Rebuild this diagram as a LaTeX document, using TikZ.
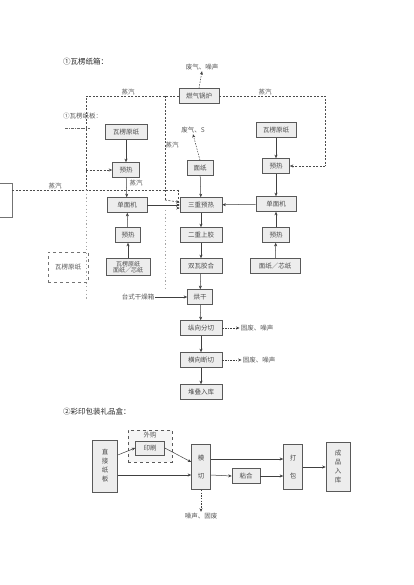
\documentclass[tikz,border=0pt]{standalone}
\usepackage{fontspec}
\newfontfamily\cjk{Noto Sans CJK SC}
\usetikzlibrary{arrows.meta,positioning}
\begin{document}
\begin{tikzpicture}[x=1pt,y=-1pt,
  box/.style={draw=black!65, fill=black!7, line width=0.6pt, minimum height=15pt, inner sep=1pt, font=\cjk\fontsize{6.5}{7}\selectfont, text=black!70},
  lbl/.style={font=\cjk\fontsize{6.5}{7}\selectfont, text=black!65, inner sep=1pt},
  ttl/.style={font=\cjk\fontsize{7.5}{8}\selectfont, text=black!85, inner sep=1pt},
  arr/.style={-{Stealth[length=3.5pt,width=3pt]}, line width=0.5pt, draw=black!75},
  steam/.style={line width=0.6pt, draw=black!70, dash pattern=on 2pt off 1.5pt},
  ghost/.style={line width=0.7pt, draw=black!35, dash pattern=on 1.2pt off 2.5pt},
  darr/.style={-{Stealth[length=3.5pt,width=3pt]}, line width=0.5pt, draw=black!75, dash pattern=on 1.5pt off 1.2pt}]
\useasboundingbox (0,0) rectangle (413,585);
\fill[white] (0,0) rectangle (413,585);

% titles
\node[ttl, anchor=west] (t1) at (62,62) {①瓦楞纸箱：};
\node[lbl, anchor=west] (t2) at (62,116) {①瓦楞纸板：};
\node[ttl, anchor=west] (t3) at (62,412) {②彩印包装礼品盒：};

% top part
\node[lbl] (emit) at (202,67) {废气、噪声};
\node[box, minimum width=40pt] (boiler) at (199,96) {燃气锅炉};
\node[lbl] (st1) at (128,92) {蒸汽};
\node[lbl] (st2) at (265,92) {蒸汽};
\node[lbl] (st3) at (172,145) {蒸汽};
\node[lbl] (st4) at (136,183) {蒸汽};
\node[lbl] (st5) at (55,186) {蒸汽};

\node[box, minimum width=42pt] (yl1) at (126,132) {瓦楞原纸};
\node[box, minimum width=27pt] (pre1) at (126,170) {预热};
\node[box, minimum width=40pt] (sf1) at (127,205) {单面机};
\node[box, minimum width=25pt] (pre2) at (128,235) {预热};
\node[box, minimum width=44pt, align=center, minimum height=17pt, inner sep=0.5pt, font=\cjk\fontsize{6}{6.5}\selectfont] (mz1) at (128,267) {瓦楞原纸\\面纸／芯纸};

\node[lbl] (gas2) at (193,130) {废气、S};
\node[box, minimum width=26pt] (mz) at (200,168) {面纸};
\node[box, minimum width=42pt] (tri) at (201,205) {三重预热};
\node[box, minimum width=42pt] (glue) at (201,235) {二重上胶};
\node[box, minimum width=42pt] (dbl) at (201,266) {双瓦胶合};
\node[box, minimum width=25pt] (dry) at (200,297) {烘干};
\node[box, minimum width=42pt] (cut1) at (201,328) {纵向分切};
\node[box, minimum width=42pt] (cut2) at (201,360) {横向断切};
\node[box, minimum width=42pt] (store) at (201,392) {堆叠入库};
\node[lbl] (w1) at (257,328) {固废、噪声};
\node[lbl] (w2) at (259,360) {固废、噪声};
\node[lbl] (dryer) at (138,297) {台式干燥箱};

\node[box, minimum width=40pt] (yl2) at (276,130) {瓦楞原纸};
\node[box, minimum width=27pt] (pre3) at (276,166) {预热};
\node[box, minimum width=40pt] (sf2) at (276,204) {单面机};
\node[box, minimum width=27pt] (pre4) at (276,235) {预热};
\node[box, minimum width=50pt] (mz2) at (275,266) {面纸／芯纸};

\node[lbl, draw=black!55, dashed, minimum width=40pt, minimum height=30pt] (yl3) at (68,267) {瓦楞原纸};
\draw[black!55, line width=0.5pt] (0,183) -- (12,183) -- (12,217) -- (0,217);

% steam lines
\coordinate (lc) at (86,96);
\coordinate (lc2) at (86,170);
\coordinate (lc3) at (86,190);
\coordinate (mc) at (165,96);
\coordinate (mc2) at (165,200);
\coordinate (rc) at (325,96);
\coordinate (rc2) at (325,166);
\coordinate (hl) at (12,190);
\coordinate (hr) at (178,190);
\draw[steam] (boiler.west) -- (lc) -- (lc3);
\draw[steam,-{Stealth[length=3.5pt,width=3pt]}] (lc2) -- (pre1.west);
\draw[steam] (hl) -- (hr);
\draw[steam,-{Stealth[length=3.5pt,width=3pt]}] (hr) |- ([yshift=-3pt]tri.west);
\draw[steam] (mc) -- (mc2);
\draw[steam,-{Stealth[length=3.5pt,width=3pt]}] (mc2) -- ([yshift=-5pt]tri.north west);
\draw[steam] (boiler.east) -- (rc) -- (rc2);
\draw[steam,-{Stealth[length=3.5pt,width=3pt]}] (rc2) -- (pre3.east);
\draw[ghost] (lc3) -- (86,300);
\draw[ghost] (165,210) -- (165,290);
\draw[black!60, line width=0.5pt, dash pattern=on 3pt off 1pt on 0.8pt off 1pt] (65,128) -- (90,128);

\draw[darr] (boiler.north) -- (emit.south);
\draw[darr] (mz.north) -- (gas2.south);

% process arrows
\draw[arr] (yl1) -- (pre1);
\draw[arr] (pre1) -- (sf1);
\draw[arr] (pre2) -- (sf1);
\draw[arr] (mz1) -- (pre2);
\draw[arr] (sf1) -- (tri);
\draw[arr] (mz) -- (tri);
\draw[arr] (tri) -- (glue);
\draw[arr] (glue) -- (dbl);
\draw[arr] (dbl) -- (dry);
\draw[arr] (dryer) -- (dry);
\draw[arr] (dry) -- (cut1);
\draw[arr] (cut1) -- (cut2);
\draw[arr] (cut2) -- (store);
\draw[darr] (cut1) -- (w1);
\draw[darr] (cut2) -- (w2);
\draw[arr] (yl2) -- (pre3);
\draw[arr] (pre3) -- (sf2);
\draw[arr] (sf2) -- (tri);
\draw[arr] (pre4) -- (sf2);
\draw[arr] (mz2) -- (pre4);

% part 2
\node[box, minimum width=25pt, minimum height=52pt, align=center, font=\cjk\fontsize{6.5}{9}\selectfont] (zb) at (105,466) {直\\接\\纸\\板};
\node[draw=black!65, dashed, line width=0.6pt, fill=black!4, minimum width=44pt, minimum height=32pt] (wg) at (150,446) {};
\node[box, minimum width=29pt, minimum height=14pt] (print2) at (150,448) {印刷};
\node[lbl] (wgl) at (150,435) {外购};
\node[box, minimum width=19pt, minimum height=45pt, align=center, font=\cjk\fontsize{6.5}{9}\selectfont] (mq) at (201,467) {模\\ \\切};
\node[box, minimum width=28pt] (nh) at (246,476) {粘合};
\node[box, minimum width=19pt, minimum height=45pt, align=center, font=\cjk\fontsize{6.5}{9}\selectfont] (db) at (293,467) {打\\ \\包};
\node[box, minimum width=24pt, minimum height=49pt, align=center, font=\cjk\fontsize{6.5}{9}\selectfont] (cp) at (338,467) {成\\品\\入\\库};
\node[lbl] (w3) at (201,516) {噪声、固废};

\draw[arr] ([yshift=11pt]zb.east) -- (print2.west);
\draw[arr] (print2.east) -- ([yshift=5pt]mq.west);
\draw[arr] ([yshift=-9pt]zb.east) -- ([yshift=-8pt]mq.west);
\draw[arr] ([yshift=8pt]mq.east) -- ([yshift=8pt]db.west);
\draw[arr] ([yshift=-8pt]mq.east) -- (nh.west);
\draw[arr] (nh.east) -- ([yshift=-9pt]db.west);
\draw[arr] (db.east) -- (cp.west);
\draw[darr] (mq.south) -- (w3.north);
\end{tikzpicture}
\end{document}
